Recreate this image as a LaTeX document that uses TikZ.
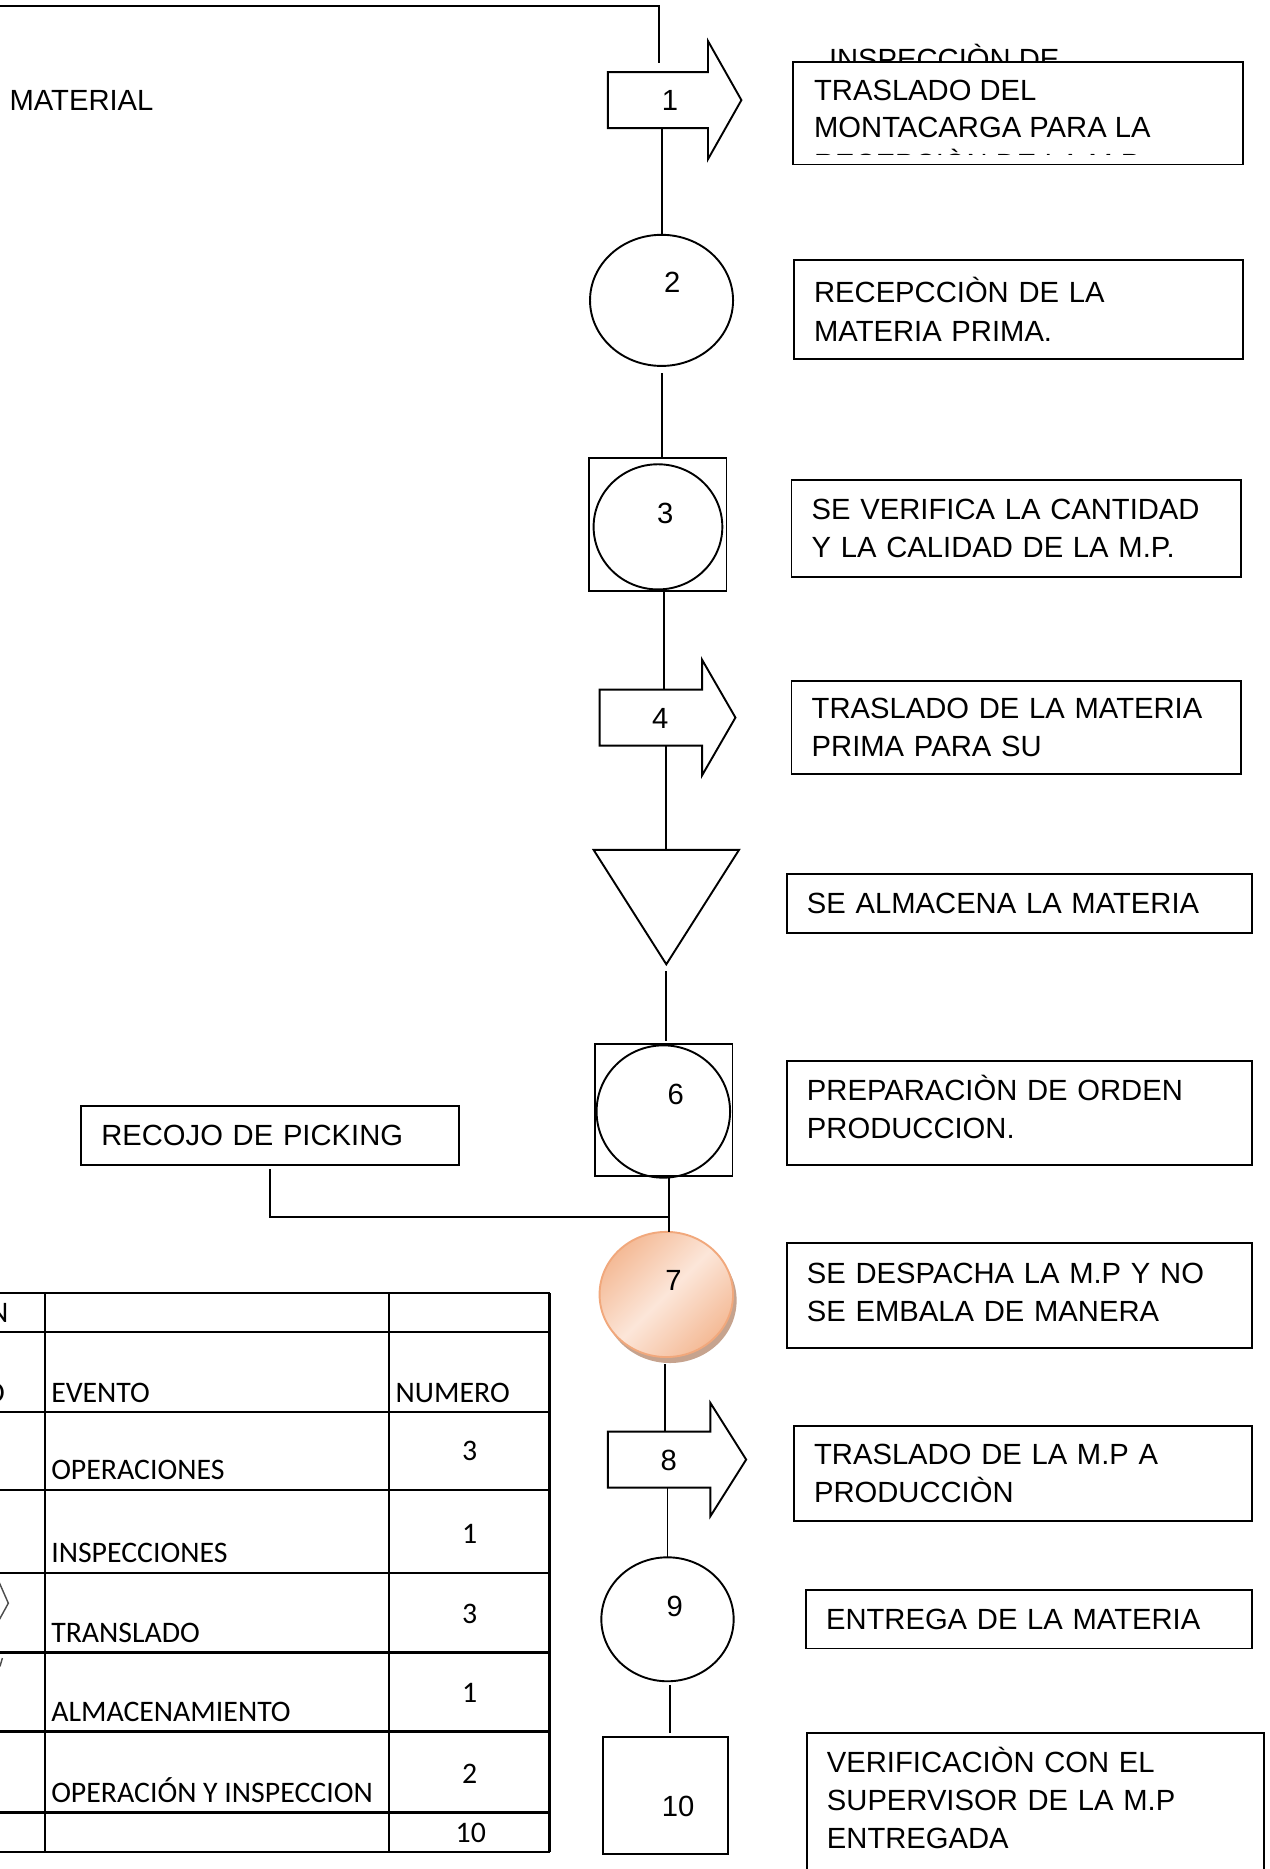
\documentclass[tikz,border=0pt]{standalone}
\usepackage{fontspec}
\setmainfont{Liberation Sans}
\newfontfamily\calibri{Carlito}
\usetikzlibrary{shapes.geometric,calc,shadows}

\definecolor{peachlight}{HTML}{FCE6D9}
\definecolor{peachdark}{HTML}{F4BA96}
\definecolor{peachedge}{HTML}{F1A87C}
\definecolor{shadowbrown}{HTML}{C6A38E}

\tikzset{
  txt/.style={font=\fontsize{24.5}{32}\selectfont},
  num/.style={font=\fontsize{24.5}{32}\selectfont},
  textbox/.style={draw, txt, align=left, inner xsep=17pt, inner ysep=0pt},
  body/.style={rectangle, minimum width=86pt, minimum height=47pt},
  oper/.style={ellipse, draw},
  insp/.style={rectangle, draw},
  cell/.style={font=\calibri\fontsize{25}{30}\selectfont, anchor=base west},
  count/.style={font=\calibri\fontsize{25}{30}\selectfont, anchor=base},
  grid/.style={line width=2pt},
}

\begin{document}
\begin{tikzpicture}[x=1pt,y=-1pt,line width=1.6pt,every node/.append style={inner sep=0pt,outer sep=0pt}]
\useasboundingbox (0,0) rectangle (1065,1568);
\clip (0,0) rectangle (1065,1568);

% symbols of the chart
\node[body, minimum width=84pt, label={[num,shift={(10,0)}]center:1}] (a1) at (552,84) {};
\node[oper, minimum width=120pt, minimum height=110pt, label={[num,shift={(9,-15)}]center:2}] (c2) at (555,252) {};
\node[insp, minimum width=115pt, minimum height=111pt, label={[num,shift={(6,-9)}]center:3}] (s3) at (552,440) {};
\node[oper, minimum width=108pt, minimum height=105pt] (s3c) at (552,442) {};
\node[body, label={[num,shift={(8,1)}]center:4}] (a4) at (546,602) {};
\node[rectangle, minimum width=122pt, minimum height=96pt] (t5) at (559,761) {};
\node[insp, minimum width=115pt, minimum height=111pt, label={[num,shift={(10,-13)}]center:6}] (s6) at (557,931) {};
\node[oper, minimum width=112pt, minimum height=111pt] (s6c) at (556.5,932.5) {};
\node[oper, draw=peachedge, left color=peachdark, right color=peachdark, middle color=peachlight, shading angle=45,
      drop shadow={shadow xshift=3pt, shadow yshift=-5pt, opacity=1, fill=shadowbrown},
      minimum width=112pt, minimum height=105pt, label={[num,shift={(6,-12)}]center:7}] (c7) at (559,1086) {};
\node[body, label={[num,shift={(8,1)}]center:8}] (a8) at (553,1224.5) {};
\node[oper, minimum width=111pt, minimum height=104pt, label={[num,shift={(6,-11)}]center:9}] (c9) at (560,1358.5) {};
\node[insp, minimum width=105pt, minimum height=98pt, label={[num,shift={(11,9)}]center:10}] (b10) at (558,1506.5) {};

\foreach \n/\up/\dn/\len in {a1/26/26/28, a4/25/25/28, a8/24/24/30}
  \draw (\n.north west) -- (\n.north east) -- ++(0,-\up) -- ($(\n.east)+(\len,0)$)
        -- ($(\n.south east)+(0,\dn)$) -- (\n.south east) -- (\n.south west) -- cycle;
\draw (t5.north west) -- (t5.north east) -- (t5.south) -- cycle;

% texts
\node[txt, anchor=west] (mat) at (8,84) {MATERIAL};
\node[txt, anchor=base west] (insp) at (695.5,58) {INSPECCIÒN DE};
\node[textbox, fill=white, minimum width=378pt, minimum height=86pt] (d1) at (854,95) {};
\begin{scope}
  \clip (d1.north west) rectangle ($(d1.south east)+(0,-8.5)$);
  \node[txt, font=\fontsize{24.5}{31}\selectfont, align=left, anchor=north west] (d1t) at ($(d1.north west)+(18,15)$)
    {TRASLADO DEL\\MONTACARGA PARA LA\\RECEPCIÒN DE LA M.P.};
\end{scope}
\node[textbox, text width=343pt, minimum height=83pt] (d2) at (854.5,259.5) {RECEPCCIÒN DE LA\\MATERIA PRIMA.};
\node[textbox, text width=343pt, minimum height=81pt] (d3) at (852.5,443.5) {SE VERIFICA LA CANTIDAD\\Y LA CALIDAD DE LA M.P.};
\node[textbox, text width=343pt, minimum height=78pt] (d4) at (852.5,610) {TRASLADO DE LA MATERIA\\PRIMA PARA SU};
\node[textbox, text width=356pt, minimum height=50pt] (d5) at (855,758) {SE ALMACENA LA MATERIA};
\node[textbox, text width=356pt, minimum height=87pt] (d6) at (855,933.5) {\raisebox{0pt}[17.5pt]{PREPARACIÒN DE ORDEN}\\PRODUCCION.\vspace{6pt}};
\node[textbox, text width=356pt, minimum height=88pt] (d7) at (855,1087) {SE DESPACHA LA M.P Y NO\\SE EMBALA DE MANERA\vspace{6pt}};
\node[textbox, text width=350pt, minimum height=80pt] (d8) at (858,1236) {TRASLADO DE LA M.P A\\PRODUCCIÒN};
\node[textbox, text width=340pt, minimum height=49pt] (d9) at (863,1358.5) {ENTREGA DE LA MATERIA};
\node[textbox, text width=350pt, minimum height=116pt] (d10) at (868.75,1512) {\raisebox{0pt}[17.5pt]{VERIFICACIÒN CON EL}\\SUPERVISOR DE LA M.P\\ENTREGADA\vspace{4pt}};
\node[textbox, text width=283pt, minimum height=49pt] (pick) at (226.5,952.5) {RECOJO DE PICKING};

% connectors
\coordinate (start) at (0,5);
\coordinate (bend) at (553,5);
\coordinate (tee) at (561,1021);
\draw[shorten >=8pt] (start) -- (bend) -- (bend |- a1.north);
\draw (c2.north) -- (c2.north |- a1.south);
\draw[shorten <=6pt] (c2.south) -- (c2.south |- s3.north);
\draw ([xshift=5pt]s3.south) -- ([xshift=5pt]s3.south |- a4.north);
\draw (t5.north) -- (t5.north |- a4.south);
\draw[shorten <=6pt, shorten >=2pt] (t5.south) -- (t5.south |- s6.north);
\draw ([xshift=4pt]s6.south) -- ([xshift=4pt]s6.south |- c7.north);
\draw[shorten <=4pt] (pick.south) |- (tee);
\draw[shorten <=6pt] ([xshift=-1pt]c7.south) -- ([xshift=-1pt]c7.south |- a8.north);
\draw (c9.north) -- (c9.north |- a8.south);
\draw[shorten <=3pt, shorten >=4pt] ([xshift=2pt]c9.south) -- ([xshift=2pt]c9.south |- b10.north);

% summary table
\foreach \y in {1085,1117.5,1184.5,1250,1319.5,1386.5,1452.5,1520.5,1553.5}
  \draw[grid] (0,\y) -- (461,\y);
\foreach \x in {37.5,326.5,461}
  \draw[grid] (\x,1085) -- (\x,1553.5);
\node[cell, anchor=base east] (h1) at (7,1109.5) {N};
\node[cell, anchor=base east] (h2) at (4,1176.5) {O};
\node[cell] (h3) at (43,1176.5) {EVENTO};
\node[cell] (h4) at (332,1176.5) {NUMERO};
\foreach \t/\n/\y [count=\i] in {OPERACIONES/3/1250, INSPECCIONES/1/1319.5, TRANSLADO/3/1386.5, ALMACENAMIENTO/1/1452.5, OPERACIÓN Y INSPECCION/2/1520.5} {
  \node[cell] (ev\i) at (43,\y-8.5) {\t};
  \node[count] (nu\i) at (394,\y-24.5) {\n};
}
\node[count] (total) at (395,1546) {10};
\draw[line width=1.2pt, black!70] (-4,1320) -- (7,1345) -- (-4,1365);
\draw[line width=1.2pt, black!70] (2,1391) -- (0,1398);
\end{tikzpicture}
\end{document}
